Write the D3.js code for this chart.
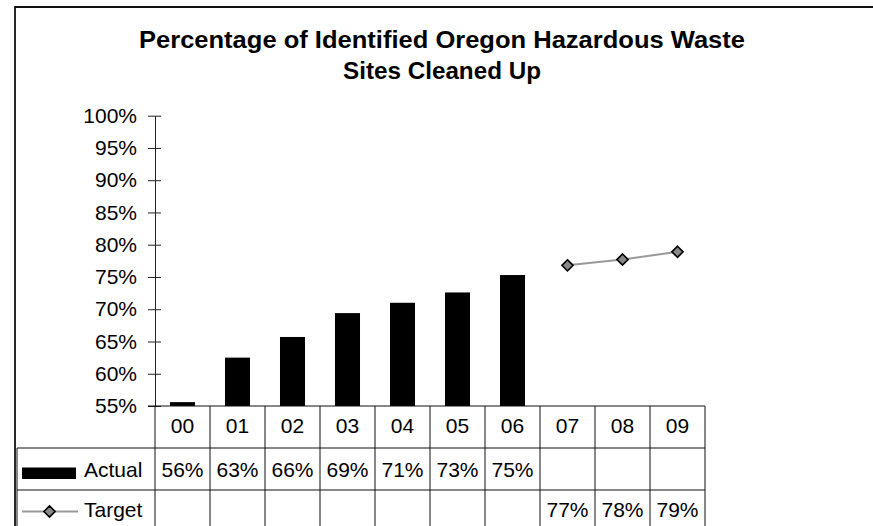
<!DOCTYPE html>
<html>
<head>
<meta charset="utf-8">
<script src="https://cdn.jsdelivr.net/npm/d3@7"></script>
<style>
  html, body { margin: 0; padding: 0; background: #fff; }
  svg { display: block; font-family: "Liberation Sans", Arial, sans-serif; }
</style>
</head>
<body>
<script>
const width = 873;
const height = 526;

// data
const categories = ["00", "01", "02", "03", "04", "05", "06", "07", "08", "09"];
const actual = [0.556, 0.625, 0.657, 0.694, 0.710, 0.726, 0.753, null, null, null];
const target = [null, null, null, null, null, null, null, 0.768, 0.777, 0.789];
const actualLabels = ["56%", "63%", "66%", "69%", "71%", "73%", "75%", "", "", ""];
const targetLabels = ["", "", "", "", "", "", "", "77%", "78%", "79%"];
const yTicks = [0.55, 0.60, 0.65, 0.70, 0.75, 0.80, 0.85, 0.90, 0.95, 1.00];
const titleLines = ["Percentage of Identified Oregon Hazardous Waste", "Sites Cleaned Up"];

const svg = d3.select("body").append("svg")
    .attr("width", width)
    .attr("height", height);

// outer frame (runs off the right and bottom edge)
svg.append("path")
    .attr("d", "M15,540 V7 H880")
    .attr("fill", "none")
    .attr("stroke", "#111")
    .attr("stroke-width", 1.8);

// title
const title = svg.append("g")
    .attr("font-weight", "bold")
    .attr("font-size", 23)
    .attr("text-anchor", "middle");
title.append("text")
    .attr("x", 442).attr("y", 48)
    .attr("textLength", 606).attr("lengthAdjust", "spacingAndGlyphs")
    .text(titleLines[0]);
title.append("text")
    .attr("x", 442).attr("y", 79)
    .attr("textLength", 198).attr("lengthAdjust", "spacingAndGlyphs")
    .text(titleLines[1]);

const x = d3.scaleBand().domain(categories).range([155, 705]).padding(0);
const y = d3.scaleLinear().domain([0.55, 1.0]).range([406, 115.7]);

const barW = x.bandwidth() * 0.455;

// bars
svg.append("g")
  .selectAll("rect")
  .data(categories.map((c, i) => ({c, v: actual[i]})).filter(d => d.v != null))
  .join("rect")
    .attr("x", d => x(d.c) + (x.bandwidth() - barW) / 2)
    .attr("y", d => y(d.v))
    .attr("width", barW)
    .attr("height", d => y(0.55) - y(d.v))
    .attr("fill", "#000");

// y axis
const yAxis = svg.append("g")
    .attr("transform", "translate(155,0)")
    .call(d3.axisLeft(y)
        .tickValues(yTicks)
        .tickFormat(d3.format(".0%"))
        .tickSizeInner(7)
        .tickSizeOuter(0)
        .tickPadding(11));
yAxis.select(".domain").attr("stroke", "#222");
yAxis.selectAll(".tick line").attr("x1", 6).attr("x2", -7).attr("stroke", "#222");
yAxis.selectAll(".tick text")
    .attr("font-size", 21)
    .attr("font-family", "'Liberation Sans', Arial, sans-serif")
    .attr("fill", "#000");

// target line
const tData = categories.map((c, i) => ({c, v: target[i]})).filter(d => d.v != null);
svg.append("path")
    .datum(tData)
    .attr("fill", "none")
    .attr("stroke", "#999")
    .attr("stroke-width", 2)
    .attr("d", d3.line().x(d => x(d.c) + x.bandwidth() / 2).y(d => y(d.v)));

const diamond = d3.symbol().type(d3.symbolDiamond2).size(80);
svg.append("g")
  .selectAll("path")
  .data(tData)
  .join("path")
    .attr("transform", d => `translate(${x(d.c) + x.bandwidth() / 2},${y(d.v)})`)
    .attr("d", diamond)
    .attr("fill", "#888")
    .attr("stroke", "#000")
    .attr("stroke-width", 1.6);

// data table
const rowTop = [406, 448, 490];
const rowBottom = 532;
const grid = svg.append("g").attr("stroke", "#111").attr("stroke-width", 1);
grid.append("line").attr("x1", 148).attr("x2", 705).attr("y1", y(0.55)).attr("y2", y(0.55));
[rowTop[1], rowTop[2]].forEach(ty => {
  grid.append("line").attr("x1", 17).attr("x2", 705).attr("y1", ty).attr("y2", ty);
});
categories.concat([null]).forEach(c => {
  const xx = c == null ? x.range()[1] : x(c);
  grid.append("line").attr("x1", xx).attr("x2", xx).attr("y1", rowTop[0]).attr("y2", rowBottom);
});
grid.append("line").attr("x1", 17).attr("x2", 17).attr("y1", rowTop[1]).attr("y2", rowBottom);

const cells = svg.append("g")
    .attr("font-size", 21)
    .attr("text-anchor", "middle")
    .attr("fill", "#000");
const cx = c => x(c) + x.bandwidth() / 2;
cells.selectAll("text.cat").data(categories).join("text")
    .attr("class", "cat").attr("x", cx).attr("y", 433).text(d => d);
cells.selectAll("text.act").data(categories).join("text")
    .attr("class", "act").attr("x", cx).attr("y", 477).text((d, i) => actualLabels[i]);
cells.selectAll("text.tgt").data(categories).join("text")
    .attr("class", "tgt").attr("x", cx).attr("y", 517).text((d, i) => targetLabels[i]);

// legend keys in the table
const legend = svg.append("g").attr("font-size", 21).attr("fill", "#000");
legend.append("rect").attr("x", 22).attr("y", 467.5).attr("width", 54).attr("height", 11.5).attr("fill", "#000");
legend.append("text").attr("x", 84).attr("y", 477).text("Actual");
legend.append("line").attr("x1", 22).attr("x2", 78).attr("y1", 511.5).attr("y2", 511.5)
    .attr("stroke", "#999").attr("stroke-width", 2);
legend.append("path").attr("transform", "translate(49.5,511.5)").attr("d", diamond)
    .attr("fill", "#888").attr("stroke", "#000").attr("stroke-width", 1.6);
legend.append("text").attr("x", 84).attr("y", 517).text("Target");
</script>
</body>
</html>
